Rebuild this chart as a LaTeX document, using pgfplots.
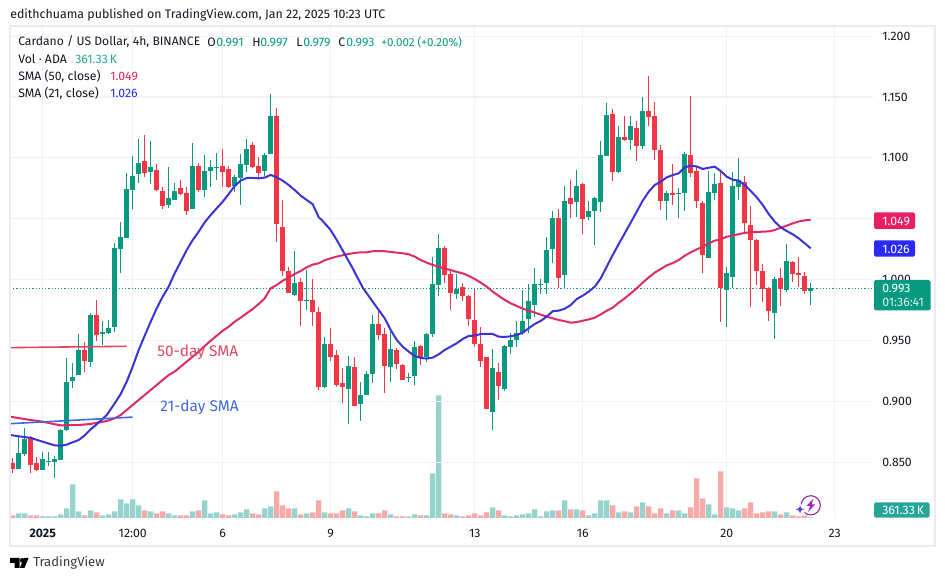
\documentclass[border=0pt]{standalone}
\usepackage{fontspec}
\usepackage{pgfplots}
\usepackage{pgfplotstable}
\pgfplotsset{compat=1.18}
\setmainfont{Fira Sans}

\definecolor{upc}{HTML}{089981}
\definecolor{downc}{HTML}{F23645}
\definecolor{upvol}{HTML}{96D3CC}
\definecolor{downvol}{HTML}{F6A9A9}
\definecolor{sma50}{HTML}{DE2A66}
\definecolor{sma21}{HTML}{3A33D6}
\definecolor{tag50}{HTML}{E91E63}
\definecolor{tag21}{HTML}{2A2AF0}
\definecolor{tagvol}{HTML}{26A69A}
\definecolor{gridc}{HTML}{F0F2F6}
\definecolor{framec}{HTML}{E9ECF2}
\definecolor{inkc}{HTML}{131722}
\definecolor{noter}{HTML}{E2475F}
\definecolor{noteb}{HTML}{3F6AD8}
\definecolor{boltc}{HTML}{9C27B0}
\definecolor{starc}{HTML}{5A3FE0}

% i low bot top high vol (volume in millions of ADA, estimated)
\pgfplotstableread{
i low bot top high vol
1 .8444 .8444 .8573 .8720 2.8
2 .8553 .8567 .8693 .8778 2.8
5 .8436 .8436 .8526 .8581 1.0
6 .8471 .8499 .8509 .8581 1.0
7 .8373 .8504 .8526 .8551 1.0
8 .8520 .8520 .8764 .8772 2.2
9 .8759 .8764 .9159 .9353 5.8
10 .9107 .9167 .9197 .9312 20.2
11 .9216 .9216 .9422 .9550 4.0
13 .9285 .9323 .9709 .9723 4.6
15 .9463 .9556 .9567 .9660 1.6
16 .9556 .9561 .9602 .9668 2.2
17 .9572 .9611 1.0260 1.0298 4.0
18 1.0057 1.0252 1.0350 1.0473 11.2
19 1.0345 1.0345 1.0745 1.0873 8.8
20 1.0583 1.0739 1.0851 1.1016 11.2
21 1.0791 1.0871 1.0958 1.1155 7.6
23 1.0786 1.0887 1.0923 1.1139 4.0
26 1.0591 1.0613 1.0671 1.0923 2.8
27 1.0654 1.0654 1.0728 1.0797 1.6
30 1.0580 1.0580 1.0934 1.1120 4.0
32 1.0682 1.0736 1.0892 1.1024 10.6
33 1.0764 1.0892 1.0923 1.0983 2.8
34 1.0818 1.0920 1.0925 1.1038 3.4
37 1.0720 1.0772 1.0840 1.0860 2.2
38 1.0613 1.0835 1.0950 1.1029 3.4
39 1.0887 1.0942 1.1073 1.1155 5.2
42 1.0851 1.0892 1.1024 1.1040 5.8
43 1.1032 1.1032 1.1344 1.1525 7.0
47 .9865 .9874 .9972 1.0235 5.8
49 .9750 .9827 .9832 1.0079 2.8
52 .9107 .9120 .9471 .9526 3.4
56 .8816 .9104 .9290 .9372 5.8
58 .8841 .8981 .9052 .9156 1.6
59 .9055 .9055 .9225 .9249 1.0
60 .9153 .9227 .9635 .9709 2.8
63 .9162 .9285 .9430 .9570 2.2
66 .9162 .9194 .9200 .9236 1.0
67 .9137 .9211 .9446 .9496 2.2
69 .9326 .9364 .9553 .9561 1.6
70 .9529 .9553 .9964 1.0186 26.8
71 .9868 .9959 1.0260 1.0375 73.6
74 .9844 .9885 .9923 1.0046 1.6
80 .8767 .8915 .9274 .9430 6.4
82 .9088 .9104 .9455 .9460 1.6
83 .9392 .9449 .9504 .9559 1.0
84 .9449 .9507 .9559 .9660 1.6
85 .9545 .9559 .9660 .9915 2.2
86 .9559 .9677 .9824 .9961 2.8
87 .9696 .9794 .9964 1.0096 5.2
88 .9882 .9959 .9964 1.0002 1.0
89 .9885 .9975 1.0243 1.0350 4.0
90 1.0133 1.0251 1.0506 1.0563 4.6
92 .9928 1.0038 1.0646 1.0769 10.6
94 1.0514 1.0637 1.0769 1.0900 5.2
96 1.0489 1.0514 1.0563 1.0646 1.6
97 1.0284 1.0563 1.0670 1.0676 2.8
98 1.0555 1.0637 1.1024 1.1139 10.6
99 1.1015 1.1015 1.1352 1.1451 10.6
101 1.0876 1.0884 1.1171 1.1262 3.4
103 1.1065 1.1147 1.1262 1.1344 3.4
105 1.1073 1.1098 1.1385 1.1500 9.4
109 1.0489 1.0646 1.0711 1.0728 2.8
111 1.0506 1.0706 1.0711 1.0752 4.6
112 1.0563 1.0711 1.1032 1.1048 2.8
116 1.0177 1.0177 1.0720 1.0892 8.2
117 1.0654 1.0711 1.0785 1.0876 2.2
119 .9610 .9914 1.0054 1.0103 6.4
120 .9931 1.0021 1.0769 1.0884 5.8
121 1.0654 1.0761 1.0818 1.0999 4.6
127 .9512 .9725 1.0005 1.0021 4.0
129 .9898 .9914 1.0153 1.0292 3.4
133 .9791 .9906 .9931 .9972 0.36
}\upcandles

\pgfplotstableread{
i low bot top high vol
0 .8408 .8444 .8496 .8531 1.6
3 .8414 .8479 .8704 .8715 1.6
4 .8427 .8436 .8496 .8540 1.6
12 .9244 .9331 .9422 .9490 1.6
14 .9498 .9545 .9709 .9832 3.4
22 1.0846 1.0876 1.0975 1.1188 4.6
24 1.0728 1.0736 1.0901 1.0950 2.8
25 1.0583 1.0605 1.0728 1.0758 4.0
28 1.0695 1.0703 1.0753 1.0818 1.6
29 1.0534 1.0564 1.0712 1.0758 1.6
31 1.0723 1.0736 1.0934 1.0955 4.6
35 1.0764 1.0884 1.0934 1.1070 2.2
36 1.0755 1.0761 1.0909 1.0934 1.6
40 1.0914 1.0925 1.1106 1.1131 2.8
41 1.0824 1.0876 1.0931 1.1005 2.2
44 1.0312 1.0457 1.1344 1.1407 16.0
45 1.0030 1.0071 1.0432 1.0654 7.6
46 .9890 .9890 1.0071 1.0106 5.8
48 .9619 .9824 .9980 1.0010 2.2
50 .9619 .9734 .9832 1.0005 3.4
51 .9093 .9118 .9734 .9772 10.6
53 .9334 .9367 .9471 .9603 2.8
54 .9115 .9137 .9381 .9422 2.8
55 .8989 .9120 .9151 .9274 4.6
57 .8964 .8964 .9282 .9364 4.0
61 .9504 .9545 .9635 .9756 2.8
62 .9071 .9293 .9553 .9603 4.6
64 .9266 .9307 .9422 .9435 1.0
65 .9175 .9178 .9299 .9307 1.0
68 .9301 .9367 .9455 .9460 1.6
72 .9975 1.0041 1.0260 1.0276 2.8
73 .9753 .9893 1.0046 1.0079 2.2
75 .9827 .9868 .9939 .9972 1.0
76 .9622 .9679 .9866 .9871 1.6
77 .9449 .9471 .9668 .9920 2.8
78 .9285 .9334 .9471 .9611 1.6
79 .8940 .8940 .9364 .9367 3.4
81 .9011 .9129 .9241 .9312 4.6
91 .9933 1.0015 1.0506 1.0580 4.6
93 1.0506 1.0621 1.0670 1.0818 5.2
95 1.0374 1.0498 1.0785 1.0792 4.6
100 1.0810 1.0884 1.1360 1.1402 7.6
102 1.1141 1.1147 1.1171 1.1344 4.0
104 1.0974 1.1098 1.1245 1.1303 7.0
106 1.1262 1.1336 1.1385 1.1673 7.0
107 1.0982 1.1065 1.1344 1.1459 2.8
108 1.0572 1.0646 1.1065 1.1106 5.8
110 1.0613 1.0695 1.0711 1.0950 4.6
113 1.0846 1.0876 1.1024 1.1508 6.4
114 1.0591 1.0646 1.0892 1.0925 23.8
115 1.0054 1.0202 1.0629 1.0646 11.8
118 .9651 .9928 1.0793 1.0884 28.0
122 1.0383 1.0465 1.0802 1.0851 5.8
123 .9775 1.0325 1.0448 1.0604 9.4
124 .9955 1.0070 1.0325 1.0334 2.8
125 .9816 .9922 1.0070 1.0128 3.4
126 .9660 .9742 .9931 .9939 4.0
128 .9783 .9922 1.0013 1.0095 2.2
130 .9980 1.0046 1.0144 1.0153 1.6
131 .9939 1.0038 1.0054 1.0185 1.0
132 .9881 .9906 1.0029 1.0062 1.6
}\downcandles

\pgfplotstableread{
i v
-0.45 .8723
3 .8699
5 .8668
7 .8638
8 .8635
9 .8644
11 .8682
12 .8720
13 .8770
14 .8811
15.67 .8887
17 .8983
18 .9060
19 .9161
20 .9285
21 .9422
22 .9539
23 .9654
24 .9764
25 .9860
26 .9942
27 1.0052
28 1.0147
29 1.0243
30 1.0325
31 1.0394
32 1.0471
33 1.0531
34 1.0586
35 1.0640
36 1.0703
37 1.0769
38 1.0813
39 1.0835
40 1.0835
41 1.0832
42 1.0838
43 1.0860
44 1.0840
45 1.0813
46 1.0777
47 1.0736
48 1.0690
49 1.0654
50 1.0619
51 1.0512
51.5 1.0490
52.9 1.0413
54 1.0326
55.1 1.0230
56.5 1.0107
58.4 .9929
61 .9750
62 .9682
63 .9586
64 .9504
65 .9449
66 .9408
67 .9372
68 .9356
69 .9351
70 .9359
71 .9386
72 .9422
73 .9449
74 .9477
75 .9512
76 .9537
77 .9540
78 .9553
79 .9553
80 .9553
81 .9531
82 .9529
83 .9534
84 .9545
85 .9564
86 .9600
87 .9635
88 .9660
89 .9696
90 .9740
91 .9745
92 .9761
93 .9791
94 .9840
95 .9868
96 .9901
97 .9942
98 1.0010
99 1.0106
100 1.0202
101 1.0292
102 1.0380
103 1.0468
104 1.0558
105 1.0648
106 1.0722
107 1.0777
108 1.0804
109 1.0840
110 1.0859
111 1.0873
112 1.0922
113 1.0936
114 1.0930
115 1.0909
116 1.0919
117 1.0928
118 1.0892
119 1.0846
120 1.0821
121 1.0813
122 1.0777
123 1.0728
124 1.0676
125 1.0613
126 1.0539
127 1.0476
128 1.0429
129 1.0399
130 1.0372
131 1.0339
132 1.0298
133 1.0257
}\smafast

\pgfplotstableread{
i v
-0.45 .8874
3 .8846
5 .8833
7 .8811
8 .8803
9 .8803
11 .8805
13 .8814
15.67 .8838
17 .8860
18 .8887
19 .8929
20 .8970
21 .9011
22 .9052
23 .9093
24 .9134
25 .9175
26 .9216
27 .9244
28 .9285
29 .9326
30 .9367
31 .9408
32 .9454
33 .9498
34 .9539
35 .9580
36 .9613
37 .9654
38 .9687
39 .9723
40 .9758
41 .9800
42 .9846
43 .9928
44 .9956
45 .9991
46 1.0016
47 1.0046
48 1.0071
49 1.0101
50 1.0123
51 1.0134
52 1.0159
53 1.0175
54 1.0189
55 1.0200
56 1.0211
57 1.0219
58 1.0224
59 1.0224
60 1.0233
61 1.0235
62 1.0233
63 1.0227
64 1.0222
65 1.0216
66 1.0208
67 1.0189
68 1.0161
69 1.0139
70 1.0120
71 1.0107
72 1.0090
73 1.0079
74 1.0063
75 1.0052
76 1.0030
77 1.0005
78 .9975
79 .9942
80 .9901
81 .9866
82 .9833
83 .9805
84 .9783
85 .9761
86 .9745
87 .9729
88 .9712
89 .9696
90 .9682
91 .9668
92 .9658
93 .9646
94 .9651
95 .9662
96 .9673
97 .9687
98 .9714
99 .9744
100 .9769
101 .9810
102 .9846
103 .9887
104 .9928
105 .9975
106 1.0018
107 1.0057
108 1.0087
109 1.0117
110 1.0136
111 1.0161
112 1.0196
113 1.0224
114 1.0248
115 1.0270
116 1.0298
117 1.0320
118 1.0331
119 1.0352
120 1.0361
121 1.0374
122 1.0383
123 1.0391
124 1.0391
125 1.0394
126 1.0396
127 1.0407
128 1.0426
129 1.0443
130 1.0462
131 1.0478
132 1.0487
133 1.0492
}\smaslow

\pgfplotsset{
  tvaxis/.style={
    at={(7.5pt,47.25pt)}, anchor=south west,
    scale only axis, width=647.25pt, height=368.25pt,
    xmin=-0.45, xmax=143.38,
    axis line style={draw=none},
    major tick length=0pt,
    tick style={draw=none},
    grid style={gridc, line width=0.9pt},
  },
  wick/.style={draw=none, mark=none, forget plot,
    error bars/.cd, y dir=plus, y explicit, error mark=none,
    error bar style={line width=0.8pt, color=#1}},
  body/.style={draw=none, mark=none, forget plot,
    error bars/.cd, y dir=plus, y explicit, error mark=none,
    error bar style={line width=3.95pt, color=#1}},
}

\newcommand{\lab}[4]{\node[anchor=west, inner sep=0pt, text=#3, font=\fontsize{9.2pt}{11pt}\selectfont] at (#1,#2) {#4};}
\newcommand{\tagbox}[5]{\fill[#5, rounded corners=1.2pt] (#1,#2) rectangle (#3,#4);}

\begin{document}
\begin{tikzpicture}
\path[use as bounding box] (0,0) rectangle (708.75pt,435.75pt);

% volume and vertical grid
\begin{axis}[tvaxis,
    ymin=0, ymax=294.6,
    ytick=\empty,
    xtick={5,20,35,53,77,95,119,137},
    xticklabels={\textbf{2025},12:00,6,9,13,16,20,23},
    xmajorgrids,
    xticklabel style={font=\fontsize{9.2pt}{11pt}\selectfont, text=inkc, yshift=-4.7pt},
  ]
  \addplot[ybar, bar width=3.95pt, bar shift=0pt, fill=upvol, draw=none] table[x=i,y=vol] {\upcandles};
  \addplot[ybar, bar width=3.95pt, bar shift=0pt, fill=downvol, draw=none] table[x=i,y=vol] {\downcandles};
\end{axis}

% prices
\begin{axis}[tvaxis,
    ymin=0.80411, ymax=1.20756,
    xtick=\empty,
    ytick={0.85,0.90,0.95,1.00,1.05,1.10,1.15,1.20},
    yticklabels={0.850,0.900,0.950,1.000,,1.100,1.150,1.200},
    ymajorgrids,
    yticklabel pos=right,
    yticklabel style={font=\fontsize{9.2pt}{11pt}\selectfont, text=inkc, xshift=3.5pt},
  ]
  \addplot[upc, line width=0.8pt, dash pattern=on 0.9pt off 1.5pt] coordinates {(-0.45,0.9929) (143.38,0.9929)};

  \addplot[wick=upc] table[x=i,y=low,y error plus expr=\thisrow{high}-\thisrow{low}] {\upcandles};
  \addplot[wick=downc] table[x=i,y=low,y error plus expr=\thisrow{high}-\thisrow{low}] {\downcandles};
  \addplot[body=upc] table[x=i,y=bot,y error plus expr=\thisrow{top}-\thisrow{bot}] {\upcandles};
  \addplot[body=downc] table[x=i,y=bot,y error plus expr=\thisrow{top}-\thisrow{bot}] {\downcandles};

  \addplot[sma50, line width=1.5pt, line join=round] table[x=i,y=v] {\smaslow};
  \addplot[sma21, line width=1.5pt, line join=round] table[x=i,y=v] {\smafast};

  % hand drawn marks on the published chart
  \addplot[noter, line width=1.2pt] coordinates {(-0.45,0.9441) (19,0.9452)};
  \addplot[noteb, line width=1.2pt] coordinates {(-0.45,0.8816) (20,0.8870)};
\end{axis}

% everything below is in image pixels, y going down
\begin{scope}[x=0.75pt, y=-0.75pt, yshift=435.75pt]
  \draw[framec, line width=1.1pt] (10,26) rectangle (935,546);

  \lab{10}{15}{inkc}{\fontsize{9.3pt}{11pt}\selectfont edithchuama published on TradingView.com, Jan 22, 2025 10:23 UTC}

  \lab{18}{42}{inkc}{\fontsize{9.1pt}{11pt}\selectfont Cardano / US Dollar, 4h, BINANCE}
  \lab{207}{42}{inkc}{O}
  \lab{216}{42}{upc}{0.991}
  \lab{252}{42}{inkc}{H}
  \lab{260}{42}{upc}{0.997}
  \lab{296}{42}{inkc}{L}
  \lab{303}{42}{upc}{0.979}
  \lab{338}{42}{inkc}{C}
  \lab{346}{42}{upc}{0.993}
  \lab{381}{42}{upc}{\fontsize{8.7pt}{11pt}\selectfont +0.002 (+0.20\%)}
  \lab{18}{59}{inkc}{Vol · ADA}
  \lab{75}{59}{tagvol}{361.33\,K}
  \lab{18}{76}{inkc}{SMA (50, close)}
  \lab{110}{76}{tag50}{1.049}
  \lab{18}{93}{inkc}{SMA (21, close)}
  \lab{110}{93}{tag21}{1.026}

  \node[anchor=west, inner sep=0pt, text=noter, font=\fontsize{11.6pt}{13pt}\selectfont] at (157,352) {50-day SMA};
  \node[anchor=west, inner sep=0pt, text=noteb, font=\fontsize{11.6pt}{13pt}\selectfont] at (160,407) {21-day SMA};

  \tagbox{874}{212.3}{915}{229}{tag50}
  \lab{882}{221}{white}{1.049}
  \tagbox{874}{240.3}{915}{256.7}{tag21}
  \lab{882}{249}{white}{1.026}
  \tagbox{874}{280}{930.5}{310.5}{upc}
  \lab{882}{288.5}{white}{0.993}
  \lab{882}{302.5}{white!85!upc}{01:36:41}
  \tagbox{874}{502.3}{929.5}{517.7}{tagvol}
  \lab{882}{510.5}{white}{361.33\,K}

  % badge
  \draw[boltc, line width=0.85pt] (810.7,505.3) circle (9.6);
  \fill[boltc] (813.5,498.5) -- (806.5,506) -- (810,506) -- (808,512) -- (815,504.5) -- (811.5,504.5) -- cycle;
  \fill[white] (800,509.3) circle (5.5);
  \fill[starc] (800,504.5) .. controls (800.5,508) and (801,508.7) .. (804.7,509.3)
    .. controls (801,509.9) and (800.5,510.6) .. (800,514)
    .. controls (799.5,510.6) and (799,509.9) .. (795.3,509.3)
    .. controls (799,508.7) and (799.5,508) .. (800,504.5) -- cycle;

  % logo
  \fill[black] (10,558) -- (19.5,558) -- (19.5,568) -- (14.7,568) -- (14.7,562.8) -- (10,562.8) -- cycle;
  \fill[black] (22.3,560.4) circle (2.4);
  \fill[black] (24,558) -- (28.6,558) -- (24.4,568) -- (19.8,568) -- cycle;
  \node[anchor=west, inner sep=0pt, text=inkc!85, font=\fontsize{9.8pt}{12pt}\selectfont] at (33,563) {TradingView};
\end{scope}
\end{tikzpicture}
\end{document}
